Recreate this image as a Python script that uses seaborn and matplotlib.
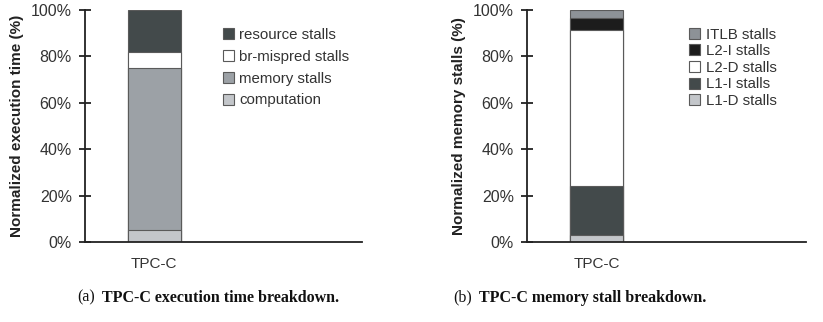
import pandas as pd
import matplotlib
matplotlib.use("Agg")
import matplotlib.pyplot as plt
from matplotlib.patches import Patch
import seaborn as sns

# data (percent of total, bottom to top)
workload = ["TPC-C"]

exec_labels = ["computation", "memory stalls", "br-mispred stalls", "resource stalls"]
exec_values = [5, 70, 7, 18]
exec_colors = ["#c3c6ca", "#9ca1a6", "#ffffff", "#434a4b"]

mem_labels = ["L1-D stalls", "L1-I stalls", "L2-D stalls", "L2-I stalls", "ITLB stalls"]
mem_values = [3, 21, 67.5, 5, 3.5]
mem_colors = ["#c3c6ca", "#434a4b", "#ffffff", "#1c1c1c", "#8d9297"]

yticks = [0, 20, 40, 60, 80, 100]

sns.set_style("white")
plt.rcParams["font.family"] = ["Liberation Sans", "DejaVu Sans"]
text_col = "#333333"


def stacked(ax, labels, values, colors, ylabel, leg_pos, leg_space):
    df = pd.DataFrame({"label": labels, "value": values, "color": colors})
    df["top"] = df["value"].cumsum()
    # draw tallest layer first, smaller ones on top of it
    for _, row in df.iloc[::-1].iterrows():
        sns.barplot(x=workload, y=[row["top"]], color=row["color"], ax=ax,
                    width=0.38, edgecolor="#5a5a5a", linewidth=0.8, saturation=1)
    ax.set_xlim(-0.5, 1.5)
    ax.set_ylim(0, 100)
    ax.set_yticks(yticks)
    ax.set_yticklabels([f"{t}%" for t in yticks], fontsize=11.5, color=text_col)
    ax.tick_params(axis="y", direction="inout", length=9, width=1.3, color="#222222", pad=5, left=True)
    ax.tick_params(axis="x", length=0, labelsize=11, labelcolor=text_col, pad=11)
    ax.set_ylabel(ylabel, fontsize=11, fontweight="bold", color="#222222", labelpad=5)
    for s in ["top", "right"]:
        ax.spines[s].set_visible(False)
    for s in ["left", "bottom"]:
        ax.spines[s].set_color("#222222")
        ax.spines[s].set_linewidth(1.3)
    handles = [Patch(facecolor=c, edgecolor="#5a5a5a", linewidth=0.8, label=l)
               for l, c in zip(labels[::-1], colors[::-1])]
    ax.legend(handles=handles, loc="upper left", bbox_to_anchor=leg_pos, frameon=False,
              fontsize=10.8, handlelength=0.75, handleheight=0.75, handletextpad=0.35,
              labelspacing=leg_space, labelcolor=text_col, borderaxespad=0)


fig = plt.figure(figsize=(8.23, 3.22), dpi=100)
ax1 = fig.add_axes([0.1033, 0.2484, 0.3366, 0.7205])
ax2 = fig.add_axes([0.6403, 0.2484, 0.3390, 0.7205])

stacked(ax1, exec_labels, exec_values, exec_colors, "Normalized execution time (%)", (0.475, 0.948), 0.52)
stacked(ax2, mem_labels, mem_values, mem_colors, "Normalized memory stalls (%)", (0.56, 0.95), 0.17)

# captions
cap_y = 0.075
for x, tag, title in [(0.094, "(a)", "TPC-C execution time breakdown."),
                      (0.551, "(b)", "TPC-C memory stall breakdown.")]:
    t = fig.text(x, cap_y, tag, family="Liberation Serif", fontsize=11.5, va="center", color="#111111")
    ax1.annotate(title, xy=(1, 0.5), xycoords=t, xytext=(5, 0), textcoords="offset points",
                 va="center", ha="left", family="Liberation Serif", fontsize=11.5,
                 fontweight="bold", color="#111111", annotation_clip=False)

fig.savefig("out.png", dpi=100)
